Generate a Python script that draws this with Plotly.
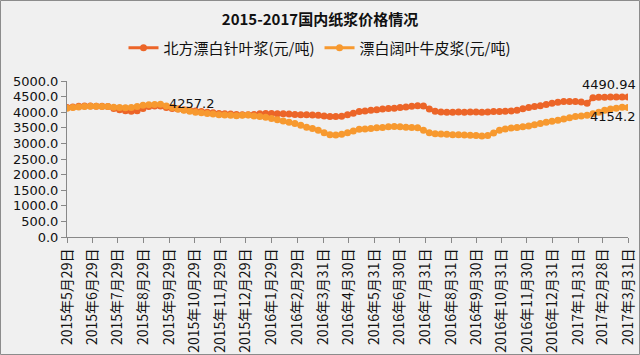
import datetime as dt
import plotly.graph_objects as go

# ---- data ----
start_date = dt.date(2015, 5, 29)
n_weeks = 97
dates = [start_date + dt.timedelta(weeks=i) for i in range(n_weeks)]

softwood = [  # 北方漂白针叶浆(元/吨)
    4150, 4170, 4190, 4200, 4200, 4190, 4190, 4180,
    4120, 4080, 4050, 4030,
    4050, 4120, 4180, 4200, 4200,
    4150, 4120, 4100, 4080, 4060, 4040, 4020,
    4000, 3980, 3960, 3950, 3940, 3930, 3920, 3920, 3930, 3950, 3960,
    3960, 3950, 3950, 3940, 3930, 3920, 3920, 3910, 3900,
    3880, 3860, 3860, 3870,
    3920, 3970, 4020, 4040, 4060, 4080, 4100, 4120, 4130, 4150, 4170, 4190, 4210, 4200,
    4100, 4030,
    4010, 4000, 4000, 4010, 4000, 4010, 4010, 4000, 4010, 4020, 4020, 4030, 4040, 4060,
    4110, 4150, 4180, 4210, 4250, 4290, 4320, 4340, 4340,
    4340, 4330, 4290, 4460, 4480,
    4480, 4490, 4490, 4490, 4490.94,
]
hardwood = [  # 漂白阔叶牛皮浆(元/吨)
    4130, 4150, 4170, 4180, 4190, 4190, 4180, 4180,
    4160, 4150, 4140, 4150,
    4180, 4220, 4240, 4250, 4257.2,
    4200, 4150, 4100, 4060, 4030, 4000, 3980,
    3960, 3940, 3920, 3910, 3900, 3890, 3900, 3910, 3880, 3860, 3840,
    3800, 3760, 3720, 3680, 3640, 3580, 3520, 3480, 3420,
    3340, 3280, 3270, 3290,
    3340, 3400, 3450, 3460, 3480, 3500, 3510, 3530, 3540, 3530, 3520, 3510, 3500,
    3420, 3340,
    3310, 3300, 3290, 3280, 3280, 3270, 3260, 3250, 3240, 3250,
    3330, 3420, 3460, 3490, 3510, 3530, 3560, 3600, 3640, 3680, 3710, 3740,
    3780, 3820, 3860, 3880, 3900, 3950, 4000, 4060, 4100, 4130, 4160, 4154.2,
]

tick_dates = [
    dt.date(2015, 5, 29), dt.date(2015, 6, 29), dt.date(2015, 7, 29), dt.date(2015, 8, 29),
    dt.date(2015, 9, 29), dt.date(2015, 10, 29), dt.date(2015, 11, 29), dt.date(2015, 12, 29),
    dt.date(2016, 1, 29), dt.date(2016, 2, 29), dt.date(2016, 3, 31), dt.date(2016, 4, 30),
    dt.date(2016, 5, 31), dt.date(2016, 6, 30), dt.date(2016, 7, 31), dt.date(2016, 8, 31),
    dt.date(2016, 9, 30), dt.date(2016, 10, 31), dt.date(2016, 11, 30), dt.date(2016, 12, 31),
    dt.date(2017, 1, 31), dt.date(2017, 2, 28), dt.date(2017, 3, 31),
]
tick_labels = [f"{d.year}年{d.month}月{d.day}日" for d in tick_dates]

series_names = ["北方漂白针叶浆(元/吨)", "漂白阔叶牛皮浆(元/吨)"]
colors = ["#EC6528", "#F7992F"]
title_text = "2015-2017国内纸浆价格情况"

# ---- figure ----
W, H = 640, 355
ML, MR, MT, MB = 67, 12, 81, 118
FONT = "Noto Sans CJK SC"
NUMFONT = "DejaVu Sans"

fig = go.Figure()
for name, vals, col in zip(series_names, [softwood, hardwood], colors):
    fig.add_trace(go.Scatter(
        x=dates, y=vals, name=name, mode="lines+markers",
        line=dict(color=col, width=3),
        marker=dict(color=col, size=7, symbol="circle"),
    ))

label_font = dict(family=NUMFONT, size=13, color="#111111")
peak_idx = hardwood.index(max(hardwood[:30]))
fig.add_annotation(x=dates[peak_idx], y=hardwood[peak_idx], text=f"{hardwood[peak_idx]:.1f}",
                   showarrow=False, xanchor="left", yanchor="middle", xshift=6, yshift=1,
                   font=label_font)
fig.add_annotation(x=dates[-1], y=softwood[-1], text=f"{softwood[-1]:.2f}",
                   showarrow=False, xanchor="right", yanchor="bottom", xshift=10, yshift=3,
                   font=label_font)
fig.add_annotation(x=dates[-1], y=hardwood[-1], text=f"{hardwood[-1]:.1f}",
                   showarrow=False, xanchor="right", yanchor="top", xshift=10, yshift=0,
                   font=label_font)

pw = W - ML - MR
ph = H - MT - MB
fig.add_shape(type="rect", xref="paper", yref="paper",
              x0=-(ML - 0.5) / pw, x1=(W - ML - 0.5) / pw,
              y0=-(MB - 0.5) / ph, y1=1 + (MT - 0.5) / ph,
              line=dict(color="#8C8C8C", width=1), fillcolor="rgba(0,0,0,0)", layer="below")

fig.update_layout(
    width=W, height=H, autosize=False,
    margin=dict(l=ML, r=MR, t=MT, b=MB, autoexpand=False),
    paper_bgcolor="#F0F0F0", plot_bgcolor="#F0F0F0",
    font=dict(family=FONT, color="#111111"),
    title=dict(text=f"<b>{title_text}</b>", x=0.5, xanchor="center",
               y=1 - 20 / H, yanchor="middle", yref="container",
               font=dict(family=FONT, size=15, color="#111111")),
    legend=dict(orientation="h", x=0.5, xanchor="center", xref="container",
                y=1 - 48 / H, yanchor="middle", yref="container",
                font=dict(family=FONT, size=15, color="#111111"),
                bgcolor="rgba(0,0,0,0)", itemwidth=30, tracegroupgap=0),
    showlegend=True,
    xaxis=dict(
        type="date",
        range=[dates[0] - dt.timedelta(days=0.5), dates[-1] + dt.timedelta(days=0.5)],
        tickmode="array", tickvals=tick_dates, ticktext=tick_labels,
        tickangle=-90, ticks="outside", ticklen=5, tickcolor="#888888",
        showline=True, linecolor="#888888", linewidth=1,
        showgrid=False, zeroline=False, automargin=False,
        tickfont=dict(family=FONT, size=14, color="#111111"),
    ),
    yaxis=dict(
        range=[0, 5000], tickmode="linear", tick0=0, dtick=500, tickformat=".1f",
        ticks="outside", ticklen=5, tickcolor="#888888",
        showline=True, linecolor="#888888", linewidth=1,
        showgrid=False, zeroline=False, automargin=False,
        tickfont=dict(family=NUMFONT, size=13, color="#111111"),
    ),
)

fig.write_html("out.html", config={"displayModeBar": False},
               post_script="document.body.style.margin='0px';")
